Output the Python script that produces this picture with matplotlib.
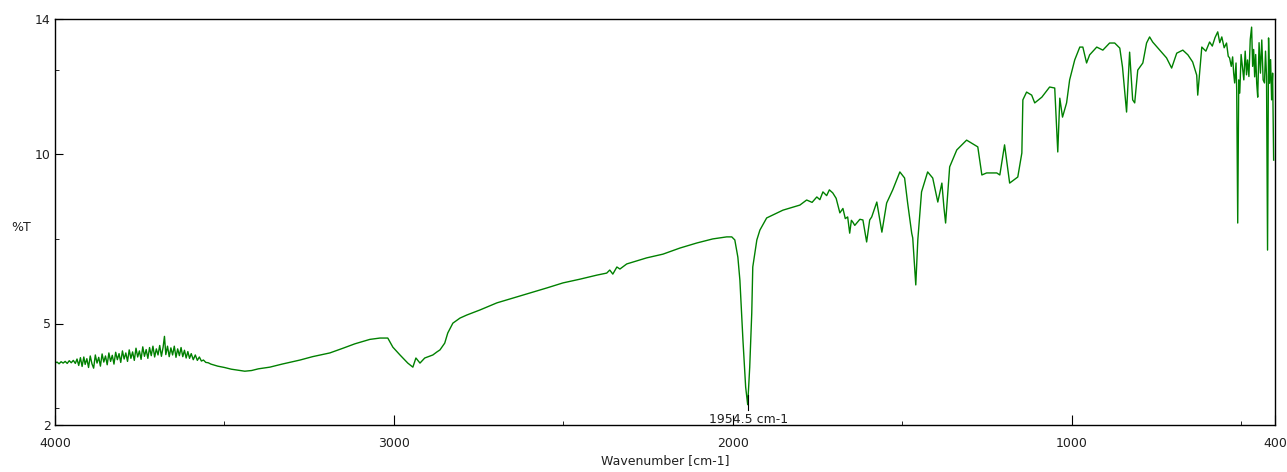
import matplotlib
matplotlib.use("Agg")
import matplotlib.pyplot as plt

# ---------------------------------------------------------------------------
# spectrum (wavenumber cm-1, %T)
# ---------------------------------------------------------------------------
wavenumber = [
    4000, 3994, 3988, 3982, 3976, 3970, 3964, 3958, 3952, 3946, 3940, 3935,
    3930, 3925, 3920, 3915, 3911, 3906, 3901, 3896, 3891, 3886, 3881, 3876,
    3871, 3866, 3861, 3856, 3851, 3846, 3841, 3836, 3831, 3826, 3821, 3816,
    3811, 3806, 3801, 3796, 3791, 3786, 3781, 3776, 3771, 3766, 3761, 3756,
    3751, 3746, 3741, 3736, 3731, 3726, 3721, 3716, 3711, 3706, 3701, 3696,
    3691, 3686, 3681, 3677, 3673, 3668, 3663, 3658, 3653, 3648, 3643, 3638,
    3633, 3628, 3623, 3618, 3613, 3608, 3603, 3598, 3592, 3586, 3580, 3574,
    3568, 3562, 3555, 3548, 3540, 3520,
    3500, 3480, 3460, 3440, 3420, 3400, 3366, 3330, 3277, 3240, 3189, 3150,
    3115, 3071, 3041, 3018, 3003, 2982, 2959, 2944, 2935, 2923, 2909, 2885,
    2873, 2864, 2850, 2841, 2826, 2805, 2785, 2746, 2696, 2649, 2599, 2549,
    2501, 2451, 2401, 2372, 2363, 2354, 2342, 2333, 2313, 2254, 2206, 2156,
    2106, 2059, 2018, 2003, 1994, 1985, 1979, 1970, 1962, 1956, 1950, 1944,
    1941, 1929, 1920, 1900, 1852, 1802, 1782, 1766, 1752, 1743, 1734, 1723,
    1715, 1705, 1695, 1684, 1675, 1668, 1661, 1655, 1650, 1646, 1640, 1634,
    1625, 1616, 1605, 1596, 1590, 1575, 1560, 1546, 1528,
    1507, 1493, 1484, 1472, 1469, 1460, 1454, 1443, 1425, 1410, 1395, 1383,
    1377, 1372, 1360, 1339, 1310, 1292, 1277, 1265, 1251, 1221, 1212, 1198,
    1183, 1159, 1147, 1144, 1133, 1118, 1109, 1088, 1065, 1050, 1044, 1041,
    1035, 1027, 1015, 1006, 991, 976, 967, 956, 947, 926, 908, 888,
    873, 858, 850, 838, 829, 820, 814, 805, 790, 779, 770, 761,
    740, 720, 705, 690, 672, 657, 643, 631, 628, 616, 604, 593,
    585, 577, 569, 563, 557, 550, 543, 538, 534, 529, 525, 522,
    519, 515, 513, 510, 507, 504, 500, 496, 492, 488, 484, 481,
    477, 473, 469, 466, 463, 460, 457, 454, 451, 447, 443, 439,
    435, 431, 428, 425, 422, 419, 416, 413, 410, 407, 404,
]
transmittance = [
    3.83, 3.86, 3.81, 3.87, 3.83, 3.88, 3.82, 3.90, 3.84, 3.91, 3.82, 3.95,
    3.76, 3.99, 3.73, 4.01, 3.79, 3.96, 3.70, 4.04, 3.81, 3.68, 4.07, 3.83,
    4.00, 3.74, 4.10, 3.86, 4.04, 3.78, 4.13, 3.88, 4.06, 3.80, 4.15, 3.93,
    4.11, 3.85, 4.19, 3.95, 4.13, 3.88, 4.22, 3.97, 4.16, 3.91, 4.27, 4.01,
    4.19, 3.94, 4.31, 4.03, 4.23, 3.97, 4.29, 4.05, 4.33, 4.01, 4.25, 4.07,
    4.35, 4.03, 4.30, 4.62, 4.08, 4.33, 4.02, 4.28, 4.07, 4.33, 4.00, 4.25,
    4.05, 4.29, 4.02, 4.21, 3.98, 4.17, 3.97, 4.11, 3.93, 4.07, 3.91, 4.01,
    3.89, 3.92, 3.85, 3.84, 3.80, 3.74,
    3.70, 3.65, 3.62, 3.59, 3.61, 3.66, 3.71, 3.80, 3.92, 4.02, 4.13, 4.27,
    4.40, 4.53, 4.57, 4.57, 4.30, 4.07, 3.83, 3.71, 3.98, 3.83, 3.98, 4.07,
    4.16, 4.22, 4.42, 4.72, 5.01, 5.16, 5.25, 5.40, 5.61, 5.75, 5.90, 6.05,
    6.20, 6.31, 6.43, 6.49, 6.58, 6.46, 6.67, 6.61, 6.76, 6.94, 7.05, 7.23,
    7.38, 7.50, 7.56, 7.56, 7.47, 6.96, 6.28, 4.51, 3.12, 2.60, 3.71, 5.31,
    6.67, 7.47, 7.76, 8.12, 8.35, 8.50, 8.65, 8.58, 8.74, 8.66, 8.89, 8.78,
    8.95, 8.86, 8.70, 8.27, 8.40, 8.10, 8.15, 7.67, 8.05, 8.00, 7.90, 7.97,
    8.08, 8.06, 7.41, 8.06, 8.15, 8.59, 7.70, 8.56, 8.95,
    9.48, 9.30, 8.56, 7.67, 7.53, 6.14, 7.47, 8.89, 9.48, 9.30, 8.59, 9.15,
    8.44, 7.97, 9.63, 10.13, 10.42, 10.31, 10.22, 9.39, 9.45, 9.45, 9.39, 10.28,
    9.15, 9.33, 10.04, 11.61, 11.84, 11.75, 11.52, 11.69, 11.99, 11.96, 10.72, 10.07,
    11.66, 11.10, 11.52, 12.20, 12.79, 13.17, 13.17, 12.70, 12.94, 13.17, 13.08, 13.29,
    13.29, 13.14, 12.58, 11.25, 13.02, 11.61, 11.52, 12.49, 12.70, 13.29, 13.47, 13.32,
    13.08, 12.85, 12.55, 12.99, 13.08, 12.94, 12.73, 12.34, 11.75, 13.17, 13.05, 13.32,
    13.20, 13.45, 13.62, 13.30, 13.47, 13.15, 13.29, 12.90, 12.85, 12.60, 12.88, 12.40,
    12.11, 12.70, 11.90, 7.97, 12.20, 11.81, 12.95, 12.58, 12.20, 13.05, 12.35, 12.79,
    12.30, 13.40, 13.76, 12.60, 13.10, 12.29, 12.95, 12.10, 11.69, 13.30, 12.40, 13.38,
    12.20, 12.11, 13.05, 12.30, 7.17, 13.44, 12.10, 12.80, 11.61, 12.40, 9.83,
]

peak_wn = 1954.5
peak_label = "1954.5 cm-1"

x_major = [4000, 3000, 2000, 1000, 400]
x_minor = [3500, 2500, 1500, 500]
y_major = [2, 5, 10, 14]
y_minor = [2.5, 7.5, 12.5]

plt.rcParams["font.family"] = ["DejaVu Sans"]

fig = plt.figure(figsize=(12.87, 4.72), dpi=100)
ax = fig.add_axes([55 / 1287, 47 / 472, 1220 / 1287, 406 / 472])

ax.plot(wavenumber, transmittance, color="#008000", lw=1.0)

# peak pick marker + label
ax.plot([peak_wn, peak_wn], [2.44, 2.89], color="black", lw=0.8)
ax.text(peak_wn, 2.15, peak_label, ha="center", va="center", fontsize=9, color="#202020")

ax.set_xlim(4000, 400)
ax.set_ylim(2, 14)
ax.set_xticks(x_major)
ax.set_xticks(x_minor, minor=True)
ax.set_yticks(y_major)
ax.set_yticks(y_minor, minor=True)
ax.set_xticklabels([str(v) for v in x_major])
ax.set_yticklabels([str(v) for v in y_major])

ax.tick_params(axis="both", which="both", direction="in", labelsize=9, colors="black",
               labelcolor="#202020")
ax.tick_params(axis="x", which="major", length=7, pad=8.5)
ax.tick_params(axis="x", which="minor", length=3)
ax.tick_params(axis="y", which="major", length=6, pad=3)
ax.tick_params(axis="y", which="minor", length=3)
for s in ax.spines.values():
    s.set_linewidth(1.0)
    s.set_color("black")

ax.set_xlabel("Wavenumber [cm-1]", fontsize=9, color="#202020")
ax.xaxis.set_label_coords(0.5, -0.072)
ax.set_ylabel("%T", fontsize=9, color="#202020", rotation=0)
ax.yaxis.set_label_coords(-0.028, 0.47)

fig.savefig("out.png", dpi=100)
